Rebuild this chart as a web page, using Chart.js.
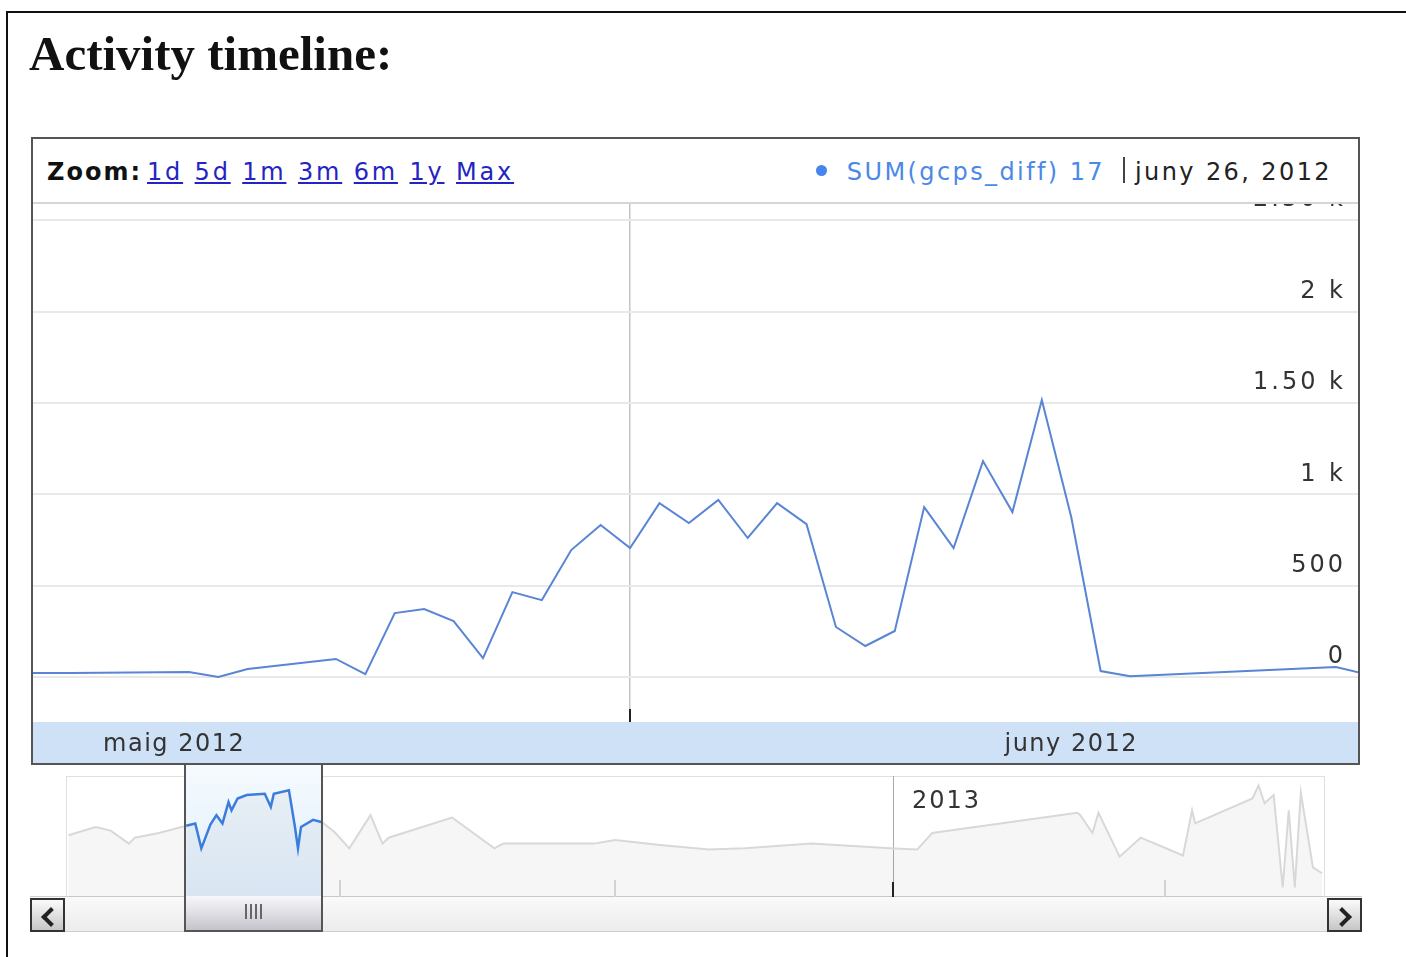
<!DOCTYPE html>
<html>
<head>
<meta charset="utf-8">
<script src="https://cdn.jsdelivr.net/npm/chart.js@4.4.1/dist/chart.umd.min.js"></script>
<style>
body { margin:0; width:1406px; height:957px; overflow:hidden; background:#fff; font-family:'DejaVu Sans', sans-serif; position:relative; }
#frame { position:absolute; left:6px; top:11px; width:1430px; height:980px; border:2px solid #111; box-sizing:border-box; }
h1 { position:absolute; left:29px; top:30px; margin:0; font:bold 49px/48px 'Liberation Serif', serif; color:#111; white-space:nowrap; }
#main { position:absolute; left:31px; top:137px; width:1329px; height:628px; border:2px solid #555; box-sizing:border-box; background:#fff; z-index:2; }
#head { position:absolute; left:0; top:0; width:100%; height:65px; border-bottom:2px solid #d6d6d6; box-sizing:border-box; font-size:24px; letter-spacing:2px; line-height:60px; padding-top:3px; white-space:nowrap; }
#zoom { position:absolute; left:14px; }
#zoom b { color:#111; }
#zoom a { color:#2424c4; text-decoration:underline; margin-left:11.5px; letter-spacing:2.8px; }
#zoom a.first { margin-left:5px; }
#legend { position:absolute; right:26px; letter-spacing:2.4px; }
#legend .dot { display:inline-block; width:11px; height:11px; border-radius:50%; background:#4684ee; vertical-align:middle; margin-right:20px; position:relative; top:-3px; }
#legend .name { color:#4b88e8; }
#legend .sep { display:inline-block; width:0; height:26px; border-left:2px solid #444; vertical-align:middle; margin:0 10px 0 18px; position:relative; top:-3px; }
#legend .date { color:#222; }
#mainWrap { position:absolute; left:0; top:65px; width:1325px; height:559px; }
#ovBox { position:absolute; left:66px; top:776px; width:1259px; height:121px; border:1px solid #e2dede; box-sizing:border-box; z-index:0; }
#winBg { position:absolute; top:765px; height:132px; background:linear-gradient(#f5fafe, #e0eefb); z-index:1; }
#ovWrap { position:absolute; left:66px; top:776px; width:1259px; height:121px; z-index:3; }
#track { position:absolute; left:30px; top:896px; width:1332px; height:36px; box-sizing:border-box; border-top:1px solid #cfcfcf; border-bottom:1px solid #cfcfcf; background:linear-gradient(#fafafa, #ececec); z-index:1; }
.btn { position:absolute; top:898px; width:35px; height:34px; box-sizing:border-box; border:2px solid #333; background:linear-gradient(#fbfbfb, #c6c6c6); z-index:4; }
.btn::after { content:''; position:absolute; top:10px; width:10px; height:10px; border-left:4px solid #222; border-bottom:4px solid #222; }
#btnL { left:30px; }
#btnL::after { left:12px; transform:rotate(45deg); }
#btnR { left:1327px; }
#btnR::after { left:6px; transform:rotate(-135deg); }
#winFrame { position:absolute; top:763px; height:169px; box-sizing:border-box; border:2px solid #555; border-top:none; z-index:4; }
#handle { position:absolute; left:0; right:0; bottom:0; height:34px; background:linear-gradient(#f8f8fb, #c4c4cc); }
#grip { position:absolute; left:50%; top:8px; margin-left:-9px; width:18px; height:15px; background:repeating-linear-gradient(90deg, #666 0 2px, transparent 2px 5px); }
</style>
</head>
<body>
<div id="frame"></div>
<h1>Activity timeline:</h1>

<div id="main">
  <div id="head">
    <span id="zoom"><b>Zoom:</b><a class="first">1d</a><a>5d</a><a>1m</a><a>3m</a><a>6m</a><a>1y</a><a>Max</a></span>
    <span id="legend"><span class="dot"></span><span class="name">SUM(gcps_diff) 17</span><span class="sep"></span><span class="date">juny 26, 2012</span></span>
  </div>
  <div id="mainWrap"><canvas id="mainChart"></canvas></div>
</div>

<div id="ovBox"></div>
<div id="winBg"></div>
<div id="ovWrap"><canvas id="ovChart"></canvas></div>
<div id="track"></div>
<div class="btn" id="btnL"></div>
<div class="btn" id="btnR"></div>
<div id="winFrame"><div id="handle"><div id="grip"></div></div></div>

<script>
// main series: days counted from 1 June 2012
const mainDays = [-21, -19, -15, -14, -13, -10, -9, -8, -7, -6, -5, -4, -3, -2, -1, 0, 1, 2, 3, 4, 5, 6, 7, 8, 9, 10, 11, 12, 13, 14, 15, 16, 17, 24, 25];
const mainValues = [22, 22, 27, 0, 44, 99, 16, 350, 372, 306, 104, 465, 421, 695, 832, 706, 952, 843, 969, 761, 952, 837, 274, 170, 252, 930, 706, 1182, 903, 1516, 876, 33, 5, 55, 17];
const yTicks = [0, 500, 1000, 1500, 2000, 2500];
const yTickLabels = ['0', '500', '1 k', '1.50 k', '2 k', '2.50 k'];
const monthMid = [-15.5, 15];
const monthLabels = ['maig 2012', 'juny 2012'];
const viewStart = -20.3, viewEnd = 24.75;

// overview series: days counted from 1 Jan 2013
const ovOffset = -214;
const ovDays = [-273, -264, -259, -253, -251, -243, -234, -231, -229, -226, -224, -222, -220, -219, -217, -214, -208, -206, -205, -200, -198, -197, -196, -192, -189, -185, -180, -173, -169, -167, -146, -132, -129, -99, -92, -78, -61, -49, -27, -1, 8, 13, 61, 62, 66, 68, 75, 82, 96, 99, 100, 119, 121, 123, 126, 129, 131, 133, 135, 139, 142];
const ovValues = [52, 59, 56, 45, 50, 54, 60, 62, 41, 61, 69, 62, 80, 73, 83, 86, 87, 76, 87, 90, 59, 41, 59, 65, 63, 55, 41, 69, 45, 50, 67, 41, 45, 45, 48, 44, 40, 41, 45, 41, 40, 54, 71, 69, 54, 71, 34, 50, 35, 73, 62, 83, 94, 79, 86, 8, 73, 8, 88, 25, 20];
const yearDays = [0];
const yearLabels = ['2013'];
const quarterDays = [-183, -92, 90];

Chart.defaults.font.family = "'DejaVu Sans', sans-serif";

const spacing = { id: 'spacing', beforeDraw(c) { c.ctx.letterSpacing = '3px'; } };

const band = {
    id: 'band',
    beforeDraw(c) {
        const ctx = c.ctx, a = c.chartArea;
        ctx.save();
        ctx.fillStyle = '#cfe1f7';
        ctx.fillRect(0, a.bottom, c.width, c.height - a.bottom);
        ctx.restore();
    },
    afterDraw(c) {
        const ctx = c.ctx, a = c.chartArea, xs = c.scales.x;
        ctx.save();
        // month start tick
        const x0 = Math.round(xs.getPixelForValue(0));
        ctx.strokeStyle = '#222';
        ctx.lineWidth = 2;
        ctx.beginPath();
        ctx.moveTo(x0, a.bottom - 13);
        ctx.lineTo(x0, a.bottom);
        ctx.stroke();
        // month labels
        ctx.fillStyle = '#333';
        ctx.font = "24px 'DejaVu Sans'";
        ctx.letterSpacing = '1.5px';
        ctx.textAlign = 'center';
        ctx.textBaseline = 'alphabetic';
        monthMid.forEach((d, i) => ctx.fillText(monthLabels[i], xs.getPixelForValue(d), a.bottom + 29));
        ctx.restore();
    }
};

new Chart(document.getElementById('mainChart'), {
    type: 'line',
    data: {
        datasets: [{
            data: mainDays.map((d, i) => ({ x: d, y: mainValues[i] })),
            borderColor: '#5a84d4',
            borderWidth: 2,
            pointRadius: 0,
            tension: 0
        }]
    },
    options: {
        animation: false,
        responsive: true,
        maintainAspectRatio: false,
        layout: { padding: { left: 0, right: 0, top: 0, bottom: 41 } },
        plugins: { legend: { display: false }, tooltip: { enabled: false } },
        scales: {
            x: {
                type: 'linear', min: viewStart, max: viewEnd,
                afterBuildTicks: a => { a.ticks = [{ value: 0 }]; },
                ticks: { display: false },
                grid: { color: '#c4c4c4', lineWidth: 1.5, drawTicks: false },
                border: { display: false },
                afterFit: a => { a.height = 0; a.paddingLeft = 0; a.paddingRight = 0; }
            },
            y: {
                type: 'linear', position: 'right', min: -246, max: 2589,
                afterBuildTicks: a => { a.ticks = yTicks.map(v => ({ value: v })); },
                ticks: { mirror: true, padding: -12, labelOffset: -20, color: '#333', font: { size: 24 }, callback: (v, i) => yTickLabels[i] },
                grid: { color: '#e9e9e9', lineWidth: 2, drawTicks: false },
                border: { display: false },
                afterFit: a => { a.width = 0; a.paddingTop = 0; a.paddingBottom = 0; }
            }
        }
    },
    plugins: [spacing, band]
});

const inWin = x => x >= viewStart + ovOffset - 0.5 && x <= viewEnd + ovOffset + 0.5;

const ovMarks = {
    id: 'ovMarks',
    afterDraw(c) {
        const ctx = c.ctx, a = c.chartArea, xs = c.scales.x;
        ctx.save();
        ctx.strokeStyle = '#d2d2d2';
        ctx.lineWidth = 2;
        quarterDays.forEach(d => {
            const x = Math.round(xs.getPixelForValue(d));
            ctx.beginPath(); ctx.moveTo(x, a.bottom - 17); ctx.lineTo(x, a.bottom); ctx.stroke();
        });
        ctx.strokeStyle = '#222';
        ctx.fillStyle = '#333';
        ctx.font = "24px 'DejaVu Sans'";
        ctx.letterSpacing = '2px';
        ctx.textBaseline = 'alphabetic';
        yearDays.forEach((d, i) => {
            const x = Math.round(xs.getPixelForValue(d));
            ctx.beginPath(); ctx.moveTo(x, a.bottom - 15); ctx.lineTo(x, a.bottom); ctx.stroke();
            ctx.fillText(yearLabels[i], x + 19, a.top + 32);
        });
        ctx.restore();
    }
};

const ovChart = new Chart(document.getElementById('ovChart'), {
    type: 'line',
    data: {
        datasets: [{
            data: ovDays.map((d, i) => ({ x: d, y: ovValues[i] })),
            borderColor: '#d8d8d8',
            borderWidth: 2,
            pointRadius: 0,
            fill: 'origin',
            backgroundColor: 'rgba(0,0,0,0.035)',
            segment: {
                borderColor: s => (inWin(s.p0.parsed.x) && inWin(s.p1.parsed.x)) ? '#3b7ddd' : undefined,
                borderWidth: s => (inWin(s.p0.parsed.x) && inWin(s.p1.parsed.x)) ? 2.5 : undefined
            }
        }]
    },
    options: {
        animation: false,
        responsive: true,
        maintainAspectRatio: false,
        layout: { padding: 0 },
        plugins: { legend: { display: false }, tooltip: { enabled: false } },
        scales: {
            x: {
                type: 'linear', min: -273.8, max: 143,
                afterBuildTicks: a => { a.ticks = yearDays.map(v => ({ value: v })); },
                ticks: { display: false },
                grid: { color: '#aaaaaa', lineWidth: 1, drawTicks: false },
                border: { display: false },
                afterFit: a => { a.height = 0; a.paddingLeft = 0; a.paddingRight = 0; }
            },
            y: { display: false, min: 0, max: 102 }
        }
    },
    plugins: [ovMarks]
});

// place the selection window over the overview from the visible range
const ovLeft = 66;
const wl = ovLeft + ovChart.scales.x.getPixelForValue(viewStart + ovOffset);
const wr = ovLeft + ovChart.scales.x.getPixelForValue(viewEnd + ovOffset);
const winBg = document.getElementById('winBg');
winBg.style.left = wl + 'px';
winBg.style.width = (wr - wl) + 'px';
const winFrame = document.getElementById('winFrame');
winFrame.style.left = (wl - 1) + 'px';
winFrame.style.width = (wr - wl + 3) + 'px';
</script>
</body>
</html>
